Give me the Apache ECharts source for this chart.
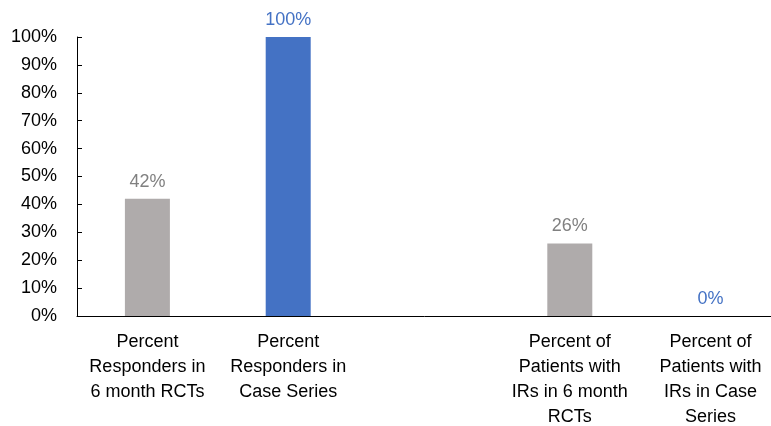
<!DOCTYPE html>
<html>
<head>
<meta charset="utf-8">
<script src="https://cdn.jsdelivr.net/npm/echarts@6/dist/echarts.min.js"></script>
<style>html,body{margin:0;padding:0;background:#fff;}#main{width:771px;height:426px;}</style>
</head>
<body>
<div id="main"></div>
<script>
var categories = [
  "Percent\nResponders in\n6 month RCTs",
  "Percent\nResponders in\nCase Series",
  "",
  "Percent of\nPatients with\nIRs in 6 month\nRCTs",
  "Percent of\nPatients with\nIRs in Case\nSeries"
];
var rctValues = [42, null, null, 26, null];
var caseSeriesValues = [null, 100, null, null, 0];
var yTicks = [0, 100, 10];

var FONT = "Liberation Sans";
var chart = echarts.init(document.getElementById('main'));
chart.setOption({
  animation: false,
  grid: {left: 77, right: -10, top: 37, bottom: 110, containLabel: false, outerBoundsMode: 'none'},
  xAxis: {
    type: 'category',
    data: categories,
    axisLine: {lineStyle: {color: '#000', width: 1}},
    axisTick: {show: false},
    axisLabel: {interval: 0, color: '#000', fontFamily: FONT, fontSize: 18, lineHeight: 25, margin: 14}
  },
  yAxis: {
    type: 'value',
    min: yTicks[0], max: yTicks[1], interval: yTicks[2],
    axisLine: {show: true, lineStyle: {color: '#000', width: 1}},
    axisTick: {show: true, inside: true, length: 5, lineStyle: {color: '#000'}},
    splitLine: {show: false},
    axisLabel: {formatter: '{value}%', color: '#000', fontFamily: FONT, fontSize: 18, margin: 20}
  },
  series: [
    {
      type: 'bar', data: rctValues, barWidth: 45, barGap: '-100%',
      itemStyle: {color: '#AFABAB'},
      label: {show: true, position: 'top', distance: 8, formatter: '{c}%', color: '#808080', fontFamily: FONT, fontSize: 18}
    },
    {
      type: 'bar', data: caseSeriesValues, barWidth: 45, barGap: '-100%',
      itemStyle: {color: '#4472C4'},
      label: {show: true, position: 'top', distance: 8, formatter: '{c}%', color: '#4472C4', fontFamily: FONT, fontSize: 18}
    }
  ]
});
</script>
</body>
</html>
